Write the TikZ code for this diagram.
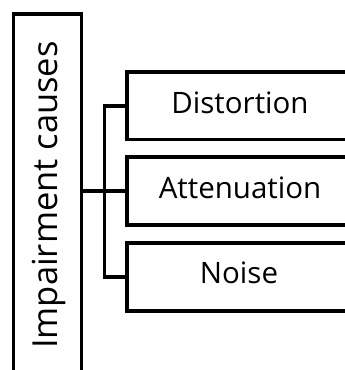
\documentclass[tikz,border=0pt]{standalone}
\usepackage{fontspec}
\setmainfont{Open Sans}[Ligatures=NoCommon]
\begin{document}
\begin{tikzpicture}[x=1bp,y=-1bp,
  boxshape/.style={draw=black,line width=3.5bp,rectangle,inner sep=0pt,fill=white},
  conn/.style={draw=black,line width=3.5bp},
  lbl/.style={font=\fontsize{29.5bp}{32bp}\selectfont,anchor=base,inner sep=0pt},
  vlbl/.style={font=\fontsize{34.5bp}{37bp}\selectfont,anchor=base,inner sep=0pt,rotate=90}]
\useasboundingbox (0,0) rectangle (345,370);
\clip (0,0) rectangle (345,370);
\fill[white] (0,0) rectangle (345,370);
% left box
\node[boxshape,minimum width=68bp,minimum height=357.5bp] (L) at (47.5,192.75) {};
\node[vlbl] (Lt) at (57,195) {Impairment causes};
% right boxes
\node[boxshape,minimum width=226bp,minimum height=67.5bp] (D) at (240,105.75) {};
\node[boxshape,minimum width=226bp,minimum height=68bp] (A) at (240,191) {};
\node[boxshape,minimum width=226bp,minimum height=68bp] (N) at (240,277) {};
\node[lbl] (Dt) at (240,113.3) {Distortion};
\node[lbl] (At) at (240,198.3) {Attenuation};
\node[lbl] (Nt) at (239,283.3) {Noise};
% connectors
\coordinate (jt) at (104.5,191);
\draw[conn] (L.east |- A.west) -- (A.west);
\draw[conn] (D.west) -| (jt) |- (N.west);
\end{tikzpicture}
\end{document}
